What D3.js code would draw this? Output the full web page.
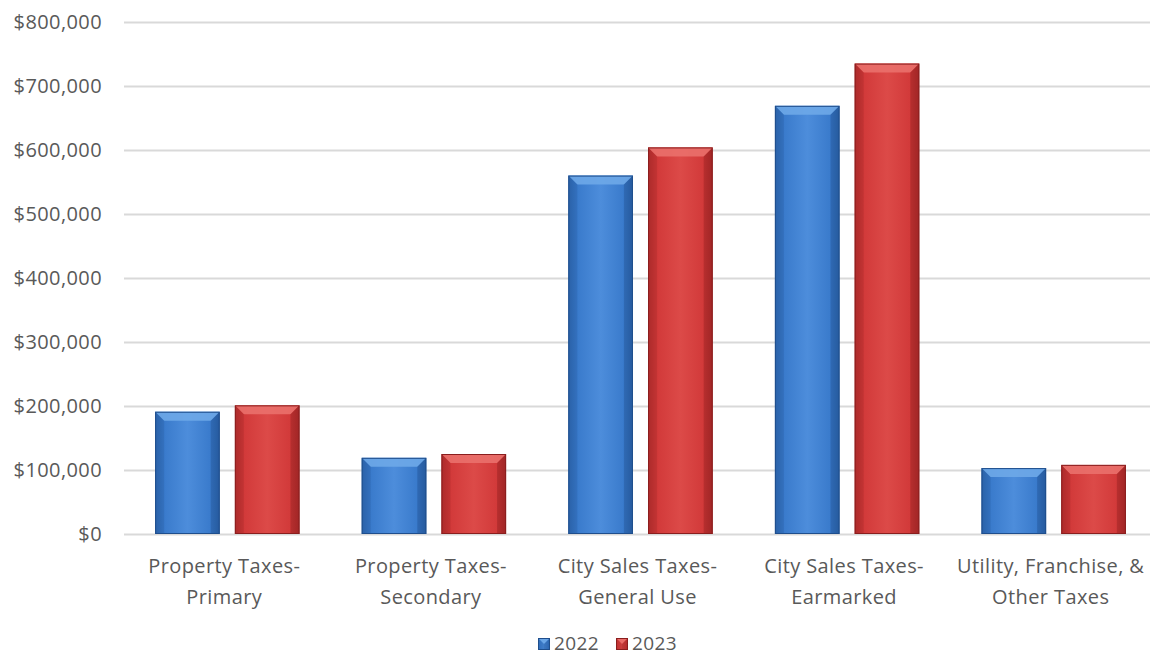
<!DOCTYPE html>
<html><head><meta charset="utf-8">
<script src="https://cdn.jsdelivr.net/npm/d3@7"></script>
<style>body{margin:0;background:#fff;} svg{display:block;} text{font-family:"Open Sans",sans-serif;fill:#595959;letter-spacing:0.4px;}</style>
</head><body><svg id="c" width="1150" height="656"></svg>
<script>
const categories = [["Property Taxes-","Primary"],["Property Taxes-","Secondary"],["City Sales Taxes-","General Use"],["City Sales Taxes-","Earmarked"],["Utility, Franchise, &","Other Taxes"]];
const seriesNames = ["2022","2023"];
const values2022 = [191000, 119000, 560000, 669000, 103000];
const values2023 = [201000, 125000, 604000, 735000, 108000];
const yTicks = [0,100000,200000,300000,400000,500000,600000,700000,800000];

const svg = d3.select("#c");
const colors = {
  "2022": {main:"#3a7bcc", light:"#6ea8e8", mid:"#4d8ddb", dark:"#1f4e8c", edge:"#2a62a8"},
  "2023": {main:"#d23a3a", light:"#ea706c", mid:"#dc4a48", dark:"#8a1e1e", edge:"#ad2b2b"}
};
const defs = svg.append("defs");
seriesNames.forEach(s=>{
  const g = defs.append("linearGradient").attr("id","g"+s).attr("x1","0").attr("x2","1").attr("y1","0").attr("y2","0");
  g.append("stop").attr("offset","0").attr("stop-color",colors[s].edge);
  g.append("stop").attr("offset","0.15").attr("stop-color",colors[s].main);
  g.append("stop").attr("offset","0.5").attr("stop-color",colors[s].mid);
  g.append("stop").attr("offset","0.85").attr("stop-color",colors[s].main);
  g.append("stop").attr("offset","1").attr("stop-color",colors[s].edge);
});

const y = d3.scaleLinear().domain([0,800000]).range([534,22]);
const x0 = d3.scaleBand().domain(d3.range(categories.length)).range([124,1157]).padding(0);
const x1 = d3.scaleBand().domain(seriesNames).range([0,x0.bandwidth()]).paddingInner(0.19).paddingOuter(0.39);

svg.append("g").selectAll("line").data(yTicks).join("line")
  .attr("x1",124).attr("x2",1150).attr("y1",d=>Math.round(y(d))+0.5).attr("y2",d=>Math.round(y(d))+0.5)
  .attr("stroke","#d9d9d9").attr("stroke-width",2);

const fmt = d=>"$"+d3.format(",")(d);
svg.append("g").selectAll("text").data(yTicks).join("text")
  .attr("x",102).attr("y",d=>y(d)).attr("dy","0.35em").attr("text-anchor","end")
  .attr("font-size",20).text(fmt);

function bevelBar(g, x, yTop, w, h, s){
  const c = colors[s];
  const b = Math.min(9, h/2, w/2);
  g.append("rect").attr("x",x).attr("y",yTop).attr("width",w).attr("height",h).attr("fill","url(#g"+s+")");
  g.append("polygon").attr("points",[[x,yTop],[x+w,yTop],[x+w-b,yTop+b],[x+b,yTop+b]].join(" ")).attr("fill",c.light).attr("opacity",0.9);
  g.append("polygon").attr("points",[[x,yTop],[x+b,yTop+b],[x+b,yTop+h],[x,yTop+h]].join(" ")).attr("fill",c.edge).attr("opacity",0.35);
  g.append("polygon").attr("points",[[x+w,yTop],[x+w-b,yTop+b],[x+w-b,yTop+h],[x+w,yTop+h]].join(" ")).attr("fill",c.dark).attr("opacity",0.35);
  g.append("rect").attr("x",x+0.5).attr("y",yTop+0.5).attr("width",w-1).attr("height",h-1).attr("fill","none").attr("stroke",c.dark).attr("stroke-width",1);
}

const data = [values2022, values2023];
categories.forEach((cat,i)=>{
  seriesNames.forEach((s,j)=>{
    const v = data[j][i];
    bevelBar(svg.append("g"), x0(i)+x1(s), y(v), x1.bandwidth(), y(0)-y(v), s);
  });
  const cx = x0(i)+x0.bandwidth()/2 - 3;
  const t = svg.append("text").attr("text-anchor","middle").attr("font-size",20).attr("y",573);
  t.append("tspan").attr("x",cx).text(cat[0]);
  t.append("tspan").attr("x",cx).attr("dy",31).text(cat[1]);
});

const legItems = [{s:"2022",x:538},{s:"2023",x:616}];
legItems.forEach(d=>{
  const g = svg.append("g");
  bevelBar(g, d.x, 638, 12, 12, d.s);
  g.append("text").attr("x",d.x+16).attr("y",650).attr("font-size",19).text(d.s);
});
</script></body></html>
